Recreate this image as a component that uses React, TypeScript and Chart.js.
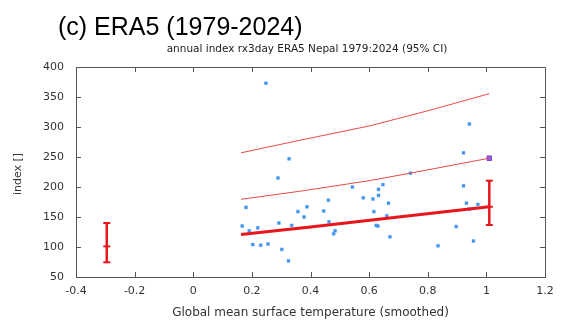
import React, { useEffect, useRef } from "react";
import { Chart, registerables } from "chart.js";

Chart.register(...registerables);

// Observed annual rx3day (ERA5, Nepal) vs smoothed GMST
const gmst = [
  0.167, 0.18, 0.191, 0.203, 0.22, 0.23, 0.248, 0.255, 0.289, 0.292, 0.302, 0.325,
  0.327, 0.336, 0.357, 0.378, 0.388, 0.445, 0.461, 0.463, 0.479, 0.484, 0.543, 0.58,
  0.613, 0.616, 0.624, 0.63, 0.632, 0.632, 0.647, 0.66, 0.666, 0.671, 0.741, 0.835,
  0.897, 0.922, 0.922, 0.932, 0.942, 0.942, 0.956, 0.971,
];
const rx3day = [
  135, 166, 127, 104, 132, 103, 373, 105, 215, 140, 96, 77,
  247, 136, 159, 150, 167, 160, 178, 142, 122, 127, 200, 182,
  180, 159, 136, 135, 196, 186, 204, 152, 173, 117, 223, 102,
  134, 257, 202, 173, 305, 163, 110, 171,
];

// Highlighted 2024 event
const eventX = [1.01];
const eventY = [248];

// Fitted location (thick), and return-level curves (thin)
const fitX = [0.163, 0.4, 0.7, 1.01];
const fitY = [121, 133.5, 150, 167];
const rlMidX = [0.163, 0.365, 0.6, 0.74, 1.01];
const rlMidY = [179.5, 193, 210.5, 223, 248];
const rlUpX = [0.163, 0.365, 0.603, 0.8, 1.01];
const rlUpY = [257, 278, 302, 327, 355.5];

// 95% CI bars of the fit at past (-0.295) and present (1.01) climate
const ciPastX = -0.295;
const ciPastY = [74.5, 101, 140];
const ciNowX = 1.01;
const ciNowY = [136.7, 167, 210.5];

const xTicks = [-0.4, -0.2, 0, 0.2, 0.4, 0.6, 0.8, 1, 1.2];
const yTicks = [50, 100, 150, 200, 250, 300, 350, 400];

const titleText = "(c) ERA5 (1979-2024)";
const subtitleText = "annual index rx3day ERA5 Nepal 1979:2024 (95% CI)";
const xTitle = "Global mean surface temperature (smoothed)";
const yTitle = "index []";

const RED = "#e8161c";
const TICK_FONT = '"DejaVu Sans", sans-serif';

const framePlugin = {
  id: "gnuplotFrame",
  afterDraw(chart: any) {
    const { ctx, chartArea } = chart;
    const { left, right, top, bottom } = chartArea;
    const xs = chart.scales.x;
    const ys = chart.scales.y;
    ctx.save();
    ctx.strokeStyle = "#555";
    ctx.lineWidth = 1;
    ctx.strokeRect(Math.round(left) + 0.5, Math.round(top) + 0.5, Math.round(right - left), Math.round(bottom - top));
    const tl = 5;
    ctx.beginPath();
    xTicks.forEach((v) => {
      const px = Math.round(xs.getPixelForValue(v)) + 0.5;
      ctx.moveTo(px, bottom);
      ctx.lineTo(px, bottom - tl);
      ctx.moveTo(px, top);
      ctx.lineTo(px, top + tl);
    });
    yTicks.forEach((v) => {
      const py = Math.round(ys.getPixelForValue(v)) + 0.5;
      ctx.moveTo(left, py);
      ctx.lineTo(left + tl, py);
      ctx.moveTo(right, py);
      ctx.lineTo(right - tl, py);
    });
    ctx.stroke();

    // titles
    ctx.fillStyle = "#000";
    ctx.textBaseline = "alphabetic";
    ctx.textAlign = "left";
    ctx.font = '25px "Liberation Sans", Arial, sans-serif';
    ctx.fillText(titleText, 58, 35);

    ctx.fillStyle = "#222";
    ctx.textAlign = "center";
    ctx.font = "10.5px " + TICK_FONT;
    ctx.fillText(subtitleText, 307, 52);

    ctx.fillStyle = "#333";
    ctx.textBaseline = "middle";
    ctx.font = "12px " + TICK_FONT;
    ctx.fillText(xTitle, (left + right) / 2, 313);

    ctx.save();
    ctx.translate(18, (top + bottom) / 2 + 2);
    ctx.rotate(-Math.PI / 2);
    ctx.font = "11px " + TICK_FONT;
    ctx.fillText(yTitle, 0, 0);
    ctx.restore();

    ctx.restore();
  },
};

export default function App() {
  const ref = useRef<HTMLCanvasElement>(null);
  useEffect(() => {
    if (!ref.current) return;
    const pts = gmst.map((x, i) => ({ x, y: rx3day[i] }));
    const line = (xa: number[], ya: number[]) => xa.map((x, i) => ({ x, y: ya[i] }));
    const chart = new Chart(ref.current, {
      type: "scatter",
      data: {
        datasets: [
          {
            label: "upper",
            data: line(rlUpX, rlUpY),
            showLine: true,
            borderColor: "#e84a4a",
            borderWidth: 1,
            pointRadius: 0,
          },
          {
            label: "mid",
            data: line(rlMidX, rlMidY),
            showLine: true,
            borderColor: "#e84a4a",
            borderWidth: 1,
            pointRadius: 0,
          },
          {
            label: "fit",
            data: line(fitX, fitY),
            showLine: true,
            borderColor: RED,
            borderWidth: 3,
            pointRadius: 0,
          },
          {
            label: "ciPast",
            data: ciPastY.map((y) => ({ x: ciPastX, y })),
            showLine: true,
            borderColor: RED,
            borderWidth: 2.5,
            pointStyle: "line",
            pointRadius: 3.5,
            pointBorderWidth: 2,
            pointBorderColor: RED,
          },
          {
            label: "ciNow",
            data: ciNowY.map((y) => ({ x: ciNowX, y })),
            showLine: true,
            borderColor: RED,
            borderWidth: 2.5,
            pointStyle: "line",
            pointRadius: 3.5,
            pointBorderWidth: 2,
            pointBorderColor: RED,
          },
          {
            label: "obs",
            data: pts,
            pointStyle: "rect",
            pointRadius: 2.1,
            backgroundColor: "#4193ea",
            borderColor: "rgba(80,160,240,0.4)",
            borderWidth: 1,
          },
          {
            label: "event",
            data: line(eventX, eventY),
            pointStyle: "rect",
            pointRadius: 3.2,
            backgroundColor: "#9b5de5",
            borderColor: "#7b45d6",
            borderWidth: 1,
          },
        ],
      },
      options: {
        animation: false,
        responsive: false,
        maintainAspectRatio: false,
        layout: { padding: { top: 67, right: 29, left: 0, bottom: 0 } },
        plugins: { legend: { display: false }, tooltip: { enabled: false }, title: { display: false } },
        scales: {
          x: {
            type: "linear",
            min: -0.4,
            max: 1.2,
            grid: { display: false, drawTicks: false },
            border: { display: false },
            afterBuildTicks: (s: any) => {
              s.ticks = xTicks.map((v) => ({ value: v }));
            },
            afterFit: (s: any) => {
              s.height = 44;
            },
            ticks: {
              autoSkip: false,
              maxRotation: 0,
              padding: 8,
              color: "#333",
              font: { family: TICK_FONT, size: 11 },
              callback: (v: any) => String(Math.round(Number(v) * 10) / 10),
            },
          },
          y: {
            type: "linear",
            min: 50,
            max: 400,
            grid: { display: false, drawTicks: false },
            border: { display: false },
            afterBuildTicks: (s: any) => {
              s.ticks = yTicks.map((v) => ({ value: v }));
            },
            afterFit: (s: any) => {
              s.width = 76;
            },
            ticks: {
              autoSkip: false,
              padding: 12,
              color: "#333",
              font: { family: TICK_FONT, size: 11 },
              callback: (v: any) => String(v),
            },
          },
        },
      },
      plugins: [framePlugin],
    });
    return () => chart.destroy();
  }, []);
  return (
    <div style={{ position: "fixed", left: 0, top: 0, width: 574, height: 321, background: "#fff" }}>
      <canvas ref={ref} width={574} height={321} style={{ width: 574, height: 321 }} />
    </div>
  );
}
